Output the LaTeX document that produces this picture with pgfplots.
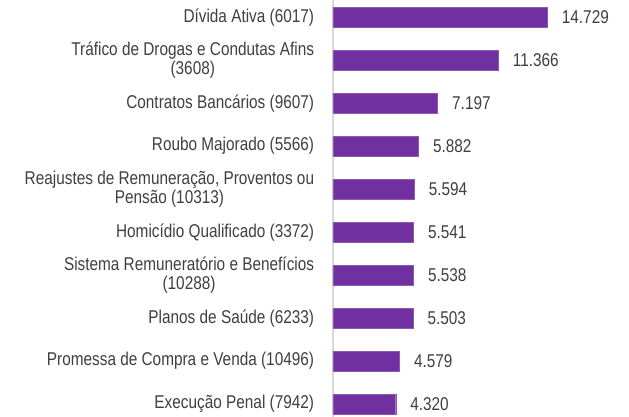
\documentclass[border=0pt]{standalone}
\usepackage{fontspec}
\setmainfont[FakeStretch=0.83]{Liberation Sans}
\usepackage{pgfplots}
\pgfplotsset{compat=1.18}
\definecolor{barpurple}{HTML}{7030A0}
\definecolor{txtgray}{HTML}{3F3F3F}
\definecolor{axgray}{HTML}{D9D9D9}
\begin{document}
\begin{tikzpicture}
\useasboundingbox (-332.8pt,0pt) rectangle (296.2pt,417pt);
\begin{axis}[
  at={(0pt,0pt)}, anchor=south west,
  scale only axis,
  width=296.2pt, height=417pt,
  xmin=0, xmax=20.34,
  ymin=-0.4, ymax=9.3,
  y dir=reverse,
  xbar,
  bar width=19.5pt,
  axis x line=none,
  axis y line=left,
  y axis line style={draw=axgray, line width=1.5pt, -},
  ytick={0,1,2,3,4,5,6,7,8,9},
  yticklabels={
    {Dívida Ativa (6017)},
    {Tráfico de Drogas e Condutas Afins\\(3608)},
    {Contratos Bancários (9607)},
    {Roubo Majorado (5566)},
    {Reajustes de Remuneração, Proventos ou\\Pensão (10313)},
    {Homicídio Qualificado (3372)},
    {Sistema Remuneratório e Benefícios\\(10288)},
    {Planos de Saúde (6233)},
    {Promessa de Compra e Venda (10496)},
    {Execução Penal (7942)}},
  major tick length=0pt,
  yticklabel style={anchor=east, inner sep=0pt, xshift=-18.5pt, align=center,
    font=\fontsize{18.5}{19}\selectfont, text=txtgray},
  point meta=explicit symbolic,
  nodes near coords,
  nodes near coords style={anchor=west, inner sep=0pt, xshift=14.4pt,
    font=\fontsize{18.5}{19}\selectfont, text=txtgray},
  clip=false,
]
\addplot[fill=barpurple, draw=barpurple!80!white, line width=0.4pt] coordinates {
  (14.729,0) [14.729]
  (11.366,1) [11.366]
  (7.197,2) [7.197]
  (5.882,3) [5.882]
  (5.594,4) [5.594]
  (5.541,5) [5.541]
  (5.538,6) [5.538]
  (5.503,7) [5.503]
  (4.579,8) [4.579]
  (4.320,9) [4.320]
};
\end{axis}
\end{tikzpicture}
\end{document}
